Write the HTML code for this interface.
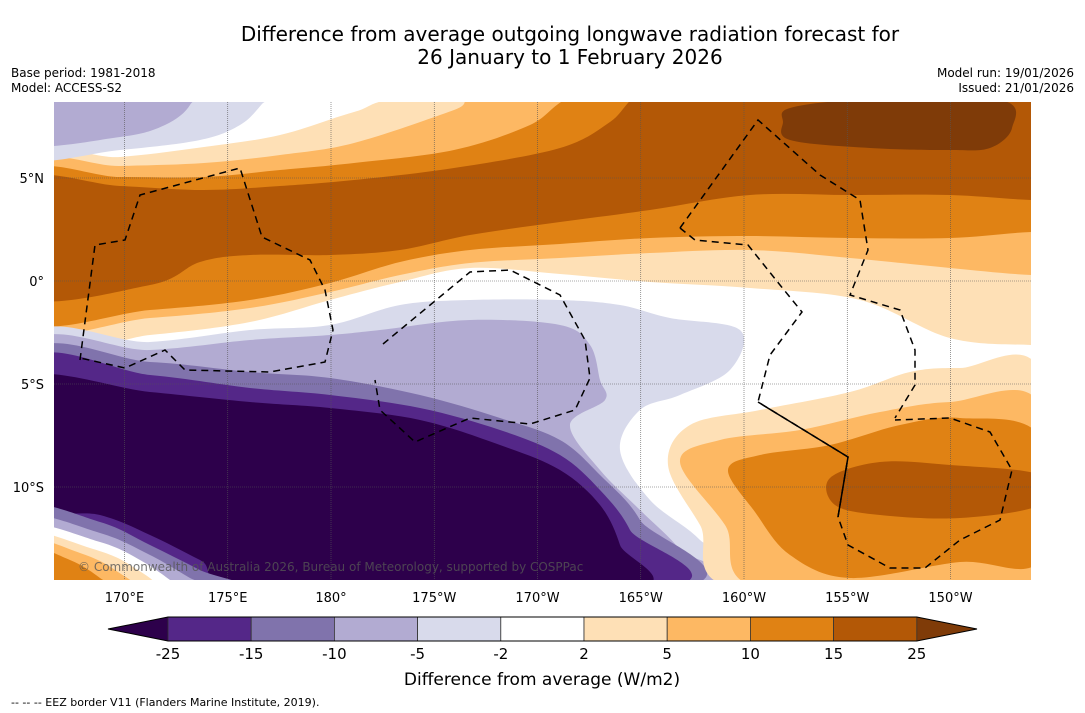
<!DOCTYPE html>
<html><head><meta charset="utf-8">
<style>
body{margin:0;background:#fff;width:1085px;height:713px;overflow:hidden;font-family:"DejaVu Sans","Liberation Sans",sans-serif;}
svg{position:absolute;left:0;top:0}
</style></head><body>
<svg id="s" width="1085" height="713" viewBox="0 0 1085 713" xmlns="http://www.w3.org/2000/svg" font-family="DejaVu Sans, Liberation Sans, sans-serif">
<text x="570" y="41" font-size="20" text-anchor="middle">Difference from average outgoing longwave radiation forecast for</text>
<text x="570" y="64" font-size="20" text-anchor="middle">26 January to 1 February 2026</text>
<text x="11" y="77" font-size="12">Base period: 1981-2018</text>
<text x="11" y="92" font-size="12">Model: ACCESS-S2</text>
<text x="1074" y="77" font-size="12" text-anchor="end">Model run: 19/01/2026</text>
<text x="1074" y="92" font-size="12" text-anchor="end">Issued: 21/01/2026</text>
<defs><clipPath id="mc"><rect x="54" y="102" width="977" height="478"/></clipPath></defs>
<g id="map" clip-path="url(#mc)"><rect x="54" y="102" width="977" height="478" fill="#fff"/></g>
<g id="grid"></g>
<g id="eez" fill="none" stroke="#000" stroke-width="1.5" stroke-dasharray="7,5"></g>
<text x="78" y="571" font-size="12" fill="#555" fill-opacity="0.8">© Commonwealth of Australia 2026, Bureau of Meteorology, supported by COSPPac</text>
<g id="xt"></g>
<g id="yt"></g>
<g id="cb"></g>
<text x="542" y="685" font-size="17" text-anchor="middle">Difference from average (W/m2)</text>
<text x="11" y="706" font-size="11">--  --  -- EEZ border V11 (Flanders Marine Institute, 2019).</text>
</svg>
<script>
const NS="http://www.w3.org/2000/svg";
const levels=[-25,-15,-10,-5,-2,2,5,10,15,25];
const colors=["#2d004b","#542788","#8073ac","#b2abd2","#d8daeb","#ffffff","#fee0b6","#fdb863","#e08214","#b35806","#7f3b08"];
const lonTicks=["170°E","175°E","180°","175°W","170°W","165°W","160°W","155°W","150°W"];
const lonVals=[170,175,180,185,190,195,200,205,210];
const latTicks=["5°N","0°","5°S","10°S"];
const latVals=[5,0,-5,-10];
function lx(l){return 331+(l-180)*20.65;}
function ly(l){return 281-l*20.6;}
function smooth(p){let d="M"+p[0][0]+","+p[0][1];const n=p.length;
 for(let i=0;i<n;i++){const p0=p[(i-1+n)%n],p1=p[i],p2=p[(i+1)%n],p3=p[(i+2)%n];
 d+=" C"+(p1[0]+(p2[0]-p0[0])/6)+","+(p1[1]+(p2[1]-p0[1])/6)+" "+(p2[0]-(p3[0]-p1[0])/6)+","+(p2[1]-(p3[1]-p1[1])/6)+" "+p2[0]+","+p2[1];}
 return d+"Z";}
const regions=[
 [6,[[20,162],[120,157],[204,147],[280,135],[354,112],[420,96],[700,80],[1100,80],[1100,345],[1031,345],[950,338],[860,300],[750,288],[650,282],[560,274],[470,268],[400,282],[330,300],[250,322],[150,335],[20,345]]],
 [7,[[20,168],[120,166],[204,163],[280,155],[354,143],[454,110],[490,94],[700,80],[1100,80],[1100,275],[1031,275],[950,268],[850,258],[750,250],[650,253],[560,258],[470,263],[400,275],[330,292],[250,308],[150,318],[20,325]]],
 [8,[[20,176],[120,177],[204,177],[280,170],[354,163],[454,150],[530,125],[580,94],[700,80],[1100,80],[1100,232],[1031,232],[950,238],[850,238],[750,236],[650,238],[560,244],[470,250],[400,262],[330,283],[250,300],[150,310],[20,318]]],
 [9,[[20,182],[120,186],[204,190],[280,186],[354,180],[454,168],[560,148],[610,122],[640,94],[700,80],[1100,80],[1100,200],[1031,200],[950,195],[850,195],[750,195],[650,210],[560,222],[470,235],[400,250],[330,255],[250,255],[200,262],[150,285],[20,295]]],
 [10,[[790,108],[860,100],[1000,100],[1012,128],[990,148],[950,150],[870,148],[790,140],[783,122]]],
 [4,[[20,80],[280,80],[262,104],[240,125],[200,140],[120,150],[20,157]]],
 [3,[[20,80],[192,80],[190,105],[165,125],[120,137],[20,143]]],
 [4,[[20,345],[150,342],[250,330],[330,325],[400,305],[470,300],[560,300],[620,305],[670,318],[740,330],[730,370],[680,395],[640,410],[620,450],[650,500],[700,540],[735,590],[20,590]]],
 [3,[[20,352],[150,350],[250,340],[330,335],[380,330],[470,320],[560,325],[590,345],[600,380],[605,400],[570,425],[600,470],[640,510],[680,550],[700,590],[20,590]]],
 [2,[[20,360],[150,362],[250,372],[330,378],[420,395],[500,418],[560,440],[600,475],[640,520],[665,590],[20,590]]],
 [1,[[20,367],[150,375],[250,388],[330,395],[420,408],[500,430],[560,455],[600,490],[630,530],[650,590],[20,590]]],
 [0,[[20,380],[150,392],[250,402],[330,408],[420,420],[500,445],[560,470],[600,505],[620,545],[628,590],[260,590],[200,560],[150,535],[100,515],[20,500]]],
 [2,[[20,507],[100,522],[150,545],[200,570],[240,590],[20,590]]],
 [3,[[20,517],[100,533],[150,555],[190,578],[210,590],[20,590]]],
 [5,[[20,525],[100,542],[140,560],[170,580],[180,590],[20,590]]],
 [6,[[20,532],[90,548],[130,565],[150,590],[20,590]]],
 [7,[[20,538],[80,553],[115,570],[130,590],[20,590]]],
 [8,[[20,545],[70,560],[100,578],[110,590],[20,590]]],
 [6,[[740,590],[700,525],[668,465],[690,425],[760,410],[850,392],[910,372],[960,368],[1040,372],[1040,590]]],
 [7,[[765,590],[725,525],[680,462],[720,440],[800,430],[880,412],[950,402],[1040,405],[1040,590]]],
 [8,[[850,578],[790,555],[755,512],[728,470],[760,455],[830,445],[900,425],[960,418],[1040,437],[1040,560],[960,562]]],
 [9,[[835,505],[830,478],[880,462],[950,465],[1040,475],[1040,505],[960,518],[880,515]]]
];
const map=document.getElementById('map');
regions.forEach((r,i)=>{const p=document.createElementNS(NS,'path');
 p.setAttribute('d',smooth(r[1]));p.setAttribute('fill',colors[r[0]]);
 
 
 map.appendChild(p);});
const grid=document.getElementById('grid');
lonVals.forEach(v=>{const l=document.createElementNS(NS,'line');l.setAttribute('x1',lx(v));l.setAttribute('x2',lx(v));l.setAttribute('y1',102);l.setAttribute('y2',580);l.setAttribute('stroke','#555');l.setAttribute('stroke-width','0.6');l.setAttribute('stroke-dasharray','1,1');
 
 grid.appendChild(l);});
latVals.forEach(v=>{const l=document.createElementNS(NS,'line');l.setAttribute('y1',ly(v));l.setAttribute('y2',ly(v));l.setAttribute('x1',54);l.setAttribute('x2',1031);l.setAttribute('stroke','#555');l.setAttribute('stroke-width','0.6');l.setAttribute('stroke-dasharray','1,1');
 
 grid.appendChild(l);});
const xt=document.getElementById('xt');
lonTicks.forEach((t,i)=>{const e=document.createElementNS(NS,'text');e.setAttribute('x',lx(lonVals[i]));e.setAttribute('y',602);e.setAttribute('font-size','13');e.setAttribute('text-anchor','middle');e.textContent=t;
 
 xt.appendChild(e);});
const yt=document.getElementById('yt');
latTicks.forEach((t,i)=>{const e=document.createElementNS(NS,'text');e.setAttribute('x',44);e.setAttribute('y',ly(latVals[i])+5);e.setAttribute('font-size','13');e.setAttribute('text-anchor','end');e.textContent=t;
 
 yt.appendChild(e);});
const eezPaths=[
 [[80,360],[95,245],[125,240],[140,195],[240,168],[262,237],[310,260],[325,290],[333,330],[325,362],[270,372],[185,370],[165,350],[125,368],[80,358]],
 [[383,344],[470,272],[510,270],[560,295],[585,340],[590,378],[575,410],[530,424],[470,418],[415,442],[380,410],[375,380]],
 [[680,228],[758,120],[820,175],[860,200],[868,250],[850,295],[900,310],[915,350],[915,385],[895,418]],
 [[680,228],[695,240],[748,245],[780,285],[802,312],[770,355],[758,402],[848,457],[838,517],[848,545],[890,568],[925,568],[960,540],[1000,520],[1012,470],[990,432],[950,418],[895,420]]
];
const eez=document.getElementById('eez');
eezPaths.forEach((p,i)=>{const e=document.createElementNS(NS,'polyline');e.setAttribute('points',p.map(q=>q.join(',')).join(' '));
 
 eez.appendChild(e);});
const sol=document.createElementNS(NS,'polyline');sol.setAttribute('points','758,402 848,457 838,517');sol.setAttribute('stroke-dasharray','none');

eez.appendChild(sol);
const cb=document.getElementById('cb');
const x0=168,bw=83.2,cy=617,ch=24;
function cbx(i){return x0+i*bw;}
const lt=document.createElementNS(NS,'polygon');lt.setAttribute('points',`108,${cy+ch/2} ${x0},${cy} ${x0},${cy+ch}`);lt.setAttribute('fill',colors[0]);

cb.appendChild(lt);
const rt=document.createElementNS(NS,'polygon');rt.setAttribute('points',`977,${cy+ch/2} ${cbx(9)},${cy} ${cbx(9)},${cy+ch}`);rt.setAttribute('fill',colors[10]);

cb.appendChild(rt);
for(let i=0;i<9;i++){const r=document.createElementNS(NS,'rect');r.setAttribute('x',cbx(i));r.setAttribute('y',cy);r.setAttribute('width',bw);r.setAttribute('height',ch);r.setAttribute('fill',colors[i+1]);r.setAttribute('stroke','#333');r.setAttribute('stroke-width','0.8');
 
 cb.appendChild(r);}
const ol=document.createElementNS(NS,'polygon');ol.setAttribute('points',`108,${cy+ch/2} ${x0},${cy} ${cbx(9)},${cy} 977,${cy+ch/2} ${cbx(9)},${cy+ch} ${x0},${cy+ch}`);ol.setAttribute('fill','none');ol.setAttribute('stroke','#000');ol.setAttribute('stroke-width','1');

cb.appendChild(ol);
levels.forEach((v,i)=>{const e=document.createElementNS(NS,'text');e.setAttribute('x',cbx(i));e.setAttribute('y',659);e.setAttribute('font-size','15');e.setAttribute('text-anchor','middle');e.textContent=v;
 
 cb.appendChild(e);});
</script>
</body></html>
